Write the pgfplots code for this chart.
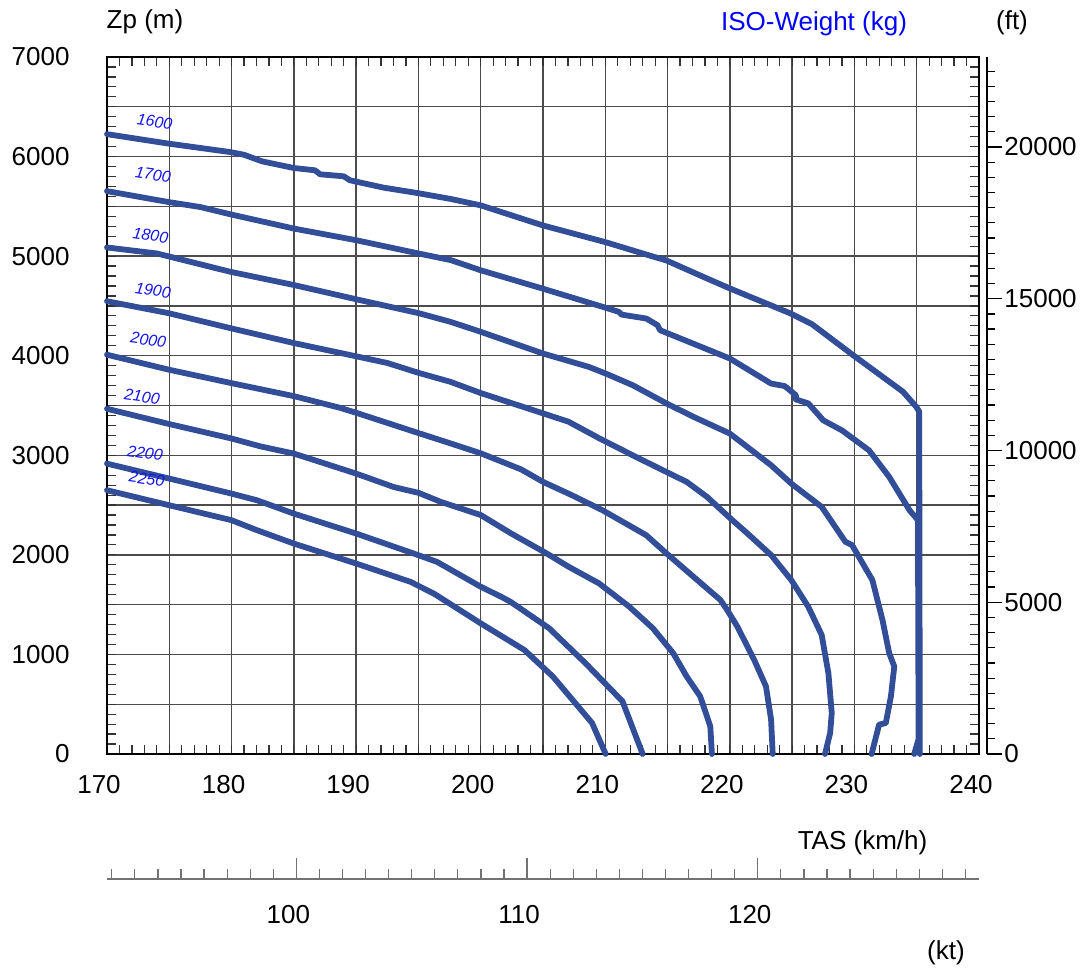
\documentclass[border=0pt]{standalone}
\usepackage{fontspec}
\setmainfont{Liberation Sans}
\usepackage{pgfplots}
\pgfplotsset{compat=1.18}
\definecolor{curve}{RGB}{51,78,153}
\definecolor{lblue}{RGB}{20,20,240}
\newcommand{\fs}{\fontsize{13}{15}\selectfont}
\newcommand{\fl}{\fontsize{8}{9}\selectfont\itshape}
\tikzset{mycurve/.style={curve, line width=2.9pt, line cap=round, line join=round, mark=none}}
\begin{document}
\begin{tikzpicture}
\path[use as bounding box] (-53.5pt,-107pt) rectangle (489.5pt,377pt);
\begin{axis}[
 at={(0,0)}, anchor=south west,
 scale only axis, width=436pt, height=348.5pt,
 xmin=170, xmax=240, ymin=0, ymax=7000,
 xtick={170,175,...,240},
 xticklabels={170,,180,,190,,200,,210,,220,,230,,240},
 ytick={0,500,...,7000},
 yticklabels={0,,1000,,2000,,3000,,4000,,5000,,6000,,7000},
 minor x tick num=4, minor y tick num=4,
 tick align=inside,
 major tick length=4.5pt, minor tick length=4.5pt,
 grid=major,
 major grid style={black!70, line width=0.7pt},
 axis line style={black, line width=0.8pt},
 tick style={black!80, line width=0.6pt},
 xticklabel style={font=\fs, xshift=-4pt, yshift=-7.2pt},
 yticklabel style={font=\fs, xshift=-15.2pt},
 clip=false,
]
% 1600
\addplot[mycurve] coordinates {(170,6225) (174.95,6130) (179.9,6045) (181.0,6018) (182.45,5952) (185.0,5885) (186.7,5862) (187.1,5822) (189.0,5802) (189.5,5762) (192.2,5688) (194.9,5634) (197.56,5575) (200.0,5510) (205.0,5308) (210.0,5141) (213.8,4997) (214.9,4957) (217.9,4790) (220.05,4673) (224.9,4423) (226.6,4316) (229.9,4005) (233.9,3638) (234.96,3487) (235.2,3440) (235.25,0)};
% 1700
\addplot[mycurve] coordinates {(170,5653) (174.95,5543) (177.5,5493) (179.9,5420) (185.0,5277) (190.0,5160) (195.0,5027) (197.6,4960) (200.0,4858) (205.0,4673) (210.0,4483) (211.1,4440) (211.3,4413) (213.3,4373) (214.2,4306) (214.4,4256) (220.0,3972) (223.3,3721) (224.4,3695) (225.3,3604) (225.3,3561) (226.3,3521) (227.5,3351) (229.0,3250) (231.17,3050) (232.79,2783) (234.42,2449) (235.1,2349) (235.15,150) (234.8,0)};
% 1800
\addplot[mycurve] coordinates {(170,5087) (174.0,5027) (179.9,4843) (185.0,4710) (190.0,4567) (195.03,4427) (197.58,4340) (200.0,4240) (205.0,4022) (208.67,3888) (210.03,3821) (212.2,3704) (214.91,3521) (217.07,3387) (220.0,3218) (223.31,2900) (224.93,2716) (227.37,2482) (229.27,2132) (229.81,2098) (231.44,1747) (232.25,1347) (232.79,1013) (233.2,879) (232.93,579) (232.52,311) (231.98,295) (231.38,0)};
% 1900
\addplot[mycurve] coordinates {(170,4547) (174.95,4427) (179.9,4277) (185.0,4127) (190.0,3994) (192.5,3927) (195.03,3827) (197.56,3738) (200.0,3625) (205.0,3421) (207.05,3337) (209.6,3165) (212.47,2983) (214.9,2833) (216.53,2733) (218.16,2583) (220.05,2365) (221.41,2215) (223.31,1998) (224.93,1747) (226.29,1480) (227.37,1196) (227.91,812) (228.18,411) (228.05,211) (227.64,0)};
% 2000
\addplot[mycurve] coordinates {(170,4010) (174.95,3860) (179.9,3727) (185.0,3594) (188.7,3477) (190.0,3427) (195.03,3222) (197.56,3120) (200.0,3020) (203.25,2858) (205.0,2733) (207.32,2599) (209.76,2449) (213.28,2198) (214.91,2015) (217.07,1781) (219.24,1547) (219.78,1447) (220.6,1280) (221.95,946) (222.9,679) (223.31,345) (223.44,0)};
% 2100
\addplot[mycurve] coordinates {(170,3467) (174.95,3315) (179.95,3170) (182.3,3090) (185.0,3017) (187.1,2933) (190.0,2816) (193.0,2682) (195.03,2622) (196.8,2532) (200.0,2400) (202.44,2215) (205.3,2014) (207.05,1881) (209.49,1714) (211.92,1480) (213.82,1263) (215.45,1013) (216.53,779) (217.62,579) (218.43,278) (218.56,0)};
% 2200
\addplot[mycurve] coordinates {(170,2916) (175.0,2766) (180.0,2615) (182.05,2548) (185.0,2414) (190.0,2214) (194.63,2013) (196.5,1929) (200.0,1680) (201.63,1580) (202.4,1528) (205.5,1262) (208.4,913) (211.38,529) (213.0,0)};
% 2250
\addplot[mycurve] coordinates {(170,2649) (175.0,2498) (180.0,2348) (182.05,2247) (185.0,2113) (190.0,1913) (194.36,1729) (196.24,1611) (200.0,1312) (203.5,1045) (205.8,777) (208.94,311) (210.03,0)};
\node[font=\fl, text=lblue, rotate=-8] at (axis cs:173.83,6350) {1600};
\node[font=\fl, text=lblue, rotate=-8] at (axis cs:173.69,5818) {1700};
\node[font=\fl, text=lblue, rotate=-8] at (axis cs:173.49,5207) {1800};
\node[font=\fl, text=lblue, rotate=-8] at (axis cs:173.69,4655) {1900};
\node[font=\fl, text=lblue, rotate=-8] at (axis cs:173.32,4158) {2000};
\node[font=\fl, text=lblue, rotate=-8] at (axis cs:172.81,3588) {2100};
\node[font=\fl, text=lblue, rotate=-8] at (axis cs:173.05,3020) {2200};
\node[font=\fl, text=lblue, rotate=-8] at (axis cs:173.19,2762) {2250};
\end{axis}
% ft axis
\begin{axis}[
 at={(4pt,0)}, anchor=south west,
 scale only axis, width=436pt, height=348.5pt,
 xmin=0, xmax=1, ymin=0, ymax=22965.88,
 axis x line=none, axis y line*=right,
 scaled y ticks=false,
 ytick={0,5000,10000,15000,20000},
 yticklabels={0,5000,10000,15000,20000},
 minor ytick={500,1000,...,22500},
 tick align=outside, major tick length=7.5pt, minor tick length=4pt,
 axis line style={black, line width=0.8pt},
 tick style={black, line width=0.6pt},
 yticklabel style={font=\fs, inner sep=1pt},
]
\end{axis}
% kt axis
\begin{axis}[
 at={(0,-62.5pt)}, anchor=south west,
 scale only axis, width=436pt, height=10pt,
 xmin=91.7927, xmax=129.5896, ymin=0, ymax=1,
 axis y line=none, axis x line*=bottom,
 scaled x ticks=false,
 xtick={100,110,120}, xticklabels={100,110,120},
 minor xtick={92,93,...,129},
 tick align=inside, major tick length=10.5pt, minor tick length=5pt,
 axis line style={black!55, line width=0.8pt},
 tick style={black!55, line width=0.6pt},
 xticklabel style={font=\fs, xshift=-4pt, yshift=-9.8pt},
]
\end{axis}
\node[font=\fs] at (19pt,366pt) {Zp (m)};
\node[font=\fs, text=blue] at (353.5pt,365.25pt) {ISO-Weight (kg)};
\node[font=\fs] at (452.5pt,365.75pt) {(ft)};
\node[font=\fs] at (377.75pt,-44.25pt) {TAS (km/h)};
\node[font=\fs] at (419.5pt,-99.25pt) {(kt)};
\end{tikzpicture}
\end{document}
